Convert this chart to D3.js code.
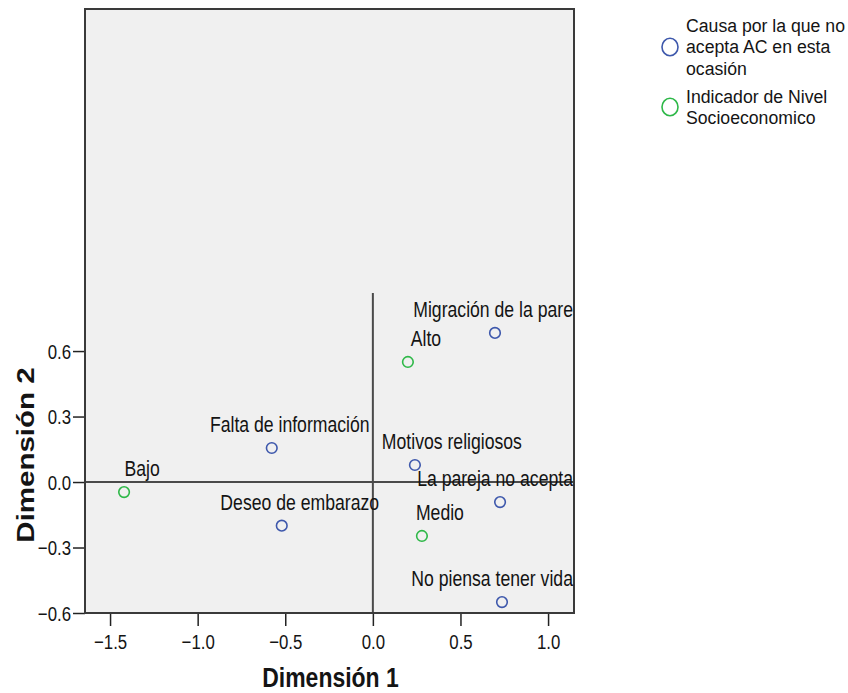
<!DOCTYPE html>
<html>
<head>
<meta charset="utf-8">
<script src="https://cdn.jsdelivr.net/npm/d3@7"></script>
<style>
  html, body { margin: 0; padding: 0; background: #ffffff; }
  svg { display: block; }
  text { font-family: "Liberation Sans", Arial, sans-serif; fill: #141414; }
</style>
</head>
<body>
<svg id="chart" width="848" height="693"></svg>
<script>
// ---------- data ----------
const causaLabels = ["Falta de información", "Deseo de embarazo", "Migración de la pare", "Motivos religiosos", "La pareja no acepta", "No piensa tener vida"];
const causaDim1 = [-0.577, -0.52, 0.697, 0.24, 0.726, 0.737];
const causaDim2 = [0.156, -0.20, 0.683, 0.078, -0.092, -0.55];

const nivelLabels = ["Bajo", "Alto", "Medio"];
const nivelDim1 = [-1.42, 0.20, 0.28];
const nivelDim2 = [-0.046, 0.55, -0.247];

const seriesNames = ["Causa por la que no acepta AC en esta ocasión", "Indicador de Nivel Socioeconomico"];
const legendLines = [["Causa por la que no", "acepta AC en esta", "ocasión"], ["Indicador de Nivel", "Socioeconomico"]];
const xTicks = [-1.5, -1.0, -0.5, 0.0, 0.5, 1.0];
const yTicks = [-0.6, -0.3, 0.0, 0.3, 0.6];
const xTitle = "Dimensión 1";
const yTitle = "Dimensión 2";

// ---------- layout / style ----------
const colors = ["#3E58AC", "#2EB848"];
const SX = 0.82;               // horizontal text compression of the original rendering
const plot = { left: 85, right: 574, top: 9, bottom: 613 };
const xScale = d3.scaleLinear().domain([-1.643, 1.148]).range([plot.left, plot.right]);
const yScale = d3.scaleLinear().domain([-0.6, 2.167]).range([plot.bottom, plot.top]);
const labelShift = 18;                          // default label offset to the right of the point
const labelShiftOverride = { "Motivos religiosos": 37 };

const svg = d3.select("#chart");

// plot background
svg.append("defs").append("clipPath").attr("id", "plotClip")
  .append("rect").attr("x", plot.left).attr("y", plot.top)
  .attr("width", plot.right - plot.left).attr("height", plot.bottom - plot.top);

svg.append("rect")
  .attr("x", plot.left).attr("y", plot.top)
  .attr("width", plot.right - plot.left).attr("height", plot.bottom - plot.top)
  .attr("fill", "#f0f0f0");

// reference lines
const g = svg.append("g").attr("clip-path", "url(#plotClip)");
g.append("line")
  .attr("x1", plot.left).attr("x2", plot.right)
  .attr("y1", yScale(0)).attr("y2", yScale(0))
  .attr("stroke", "#4a4a4a").attr("stroke-width", 2);
g.append("line")
  .attr("x1", xScale(0)).attr("x2", xScale(0))
  .attr("y1", yScale(0.866)).attr("y2", plot.bottom)
  .attr("stroke", "#4a4a4a").attr("stroke-width", 2);

// axes
function styleAxis(sel) {
  sel.select(".domain").remove();
  sel.selectAll(".tick line").attr("stroke", "#222").attr("stroke-width", 1.5);
  sel.selectAll(".tick text")
    .style("font-size", "20.5px").attr("fill", "#141414");
}
const xAxis = svg.append("g")
  .attr("transform", `translate(0,${plot.bottom})`)
  .call(d3.axisBottom(xScale).tickValues(xTicks).tickFormat(d3.format(".1f")).tickSize(13).tickPadding(6));
styleAxis(xAxis);
xAxis.selectAll(".tick text").each(function () {
  const t = d3.select(this);
  const y = +t.attr("y");
  t.attr("y", null).attr("dy", null)
    .attr("transform", `translate(0,${y + 17}) scale(${SX},1)`);
});

const yAxis = svg.append("g")
  .attr("transform", `translate(${plot.left},0)`)
  .call(d3.axisLeft(yScale).tickValues(yTicks).tickFormat(d3.format(".1f")).tickSize(12).tickPadding(2));
styleAxis(yAxis);
yAxis.selectAll(".tick text").each(function () {
  const t = d3.select(this);
  const x = +t.attr("x");
  t.attr("x", null).attr("dy", null)
    .attr("transform", `translate(${x},7) scale(${SX},1)`);
});

// frame
svg.append("rect")
  .attr("x", plot.left).attr("y", plot.top)
  .attr("width", plot.right - plot.left).attr("height", plot.bottom - plot.top)
  .attr("fill", "none").attr("stroke", "#3a3a3a").attr("stroke-width", 2);

// points + labels
const points = [];
causaLabels.forEach((l, i) => points.push({ label: l, x: causaDim1[i], y: causaDim2[i], s: 0 }));
nivelLabels.forEach((l, i) => points.push({ label: l, x: nivelDim1[i], y: nivelDim2[i], s: 1 }));

const pg = svg.append("g").attr("clip-path", "url(#plotClip)");
points.forEach(p => {
  const cx = xScale(p.x), cy = yScale(p.y);
  pg.append("circle")
    .attr("cx", cx).attr("cy", cy).attr("r", 5.3)
    .attr("fill", "none").attr("stroke", colors[p.s]).attr("stroke-width", 1.6);
  const t = pg.append("text").text(p.label).style("font-size", "21.5px");
  const w = t.node().getComputedTextLength() * SX;
  const shift = labelShiftOverride[p.label] !== undefined ? labelShiftOverride[p.label] : labelShift;
  let left = cx + shift - w / 2;
  if (left + w > plot.right - 1) left = plot.right - 1 - w;
  t.attr("transform", `translate(${left},${cy - 16}) scale(${SX},1)`);
});

// axis titles
svg.append("text").text(xTitle)
  .attr("text-anchor", "middle")
  .style("font-size", "28px").style("font-weight", "bold")
  .attr("transform", `translate(${(plot.left + plot.right) / 2 + 1},686.5) scale(${SX},1)`);
svg.append("text").text(yTitle)
  .attr("text-anchor", "middle")
  .style("font-size", "29.5px").style("font-weight", "bold")
  .attr("transform", `translate(34,455) scale(${SX},1) rotate(-90)`);

// legend (each entry is one multi-line text block)
const LSX = 0.93, legendFont = 19, legendLead = 21.5;
const legendMid = [53.5, 113.5];
legendLines.forEach((lines, i) => {
  const n = lines.length;
  const y0 = legendMid[i] - (n - 1) / 2 * legendLead;
  const cy = legendMid[i] - 6.5;
  svg.append("ellipse")
    .attr("cx", 670).attr("cy", cy).attr("rx", 8).attr("ry", 8.7)
    .attr("fill", "none").attr("stroke", colors[i]).attr("stroke-width", 1.6);
  const t = svg.append("text").style("font-size", legendFont + "px")
    .attr("transform", `translate(686,${y0}) scale(${LSX},1)`);
  lines.forEach((ln, j) => {
    t.append("tspan").attr("x", 0).attr("y", j * legendLead).text(ln);
  });
});
</script>
</body>
</html>
